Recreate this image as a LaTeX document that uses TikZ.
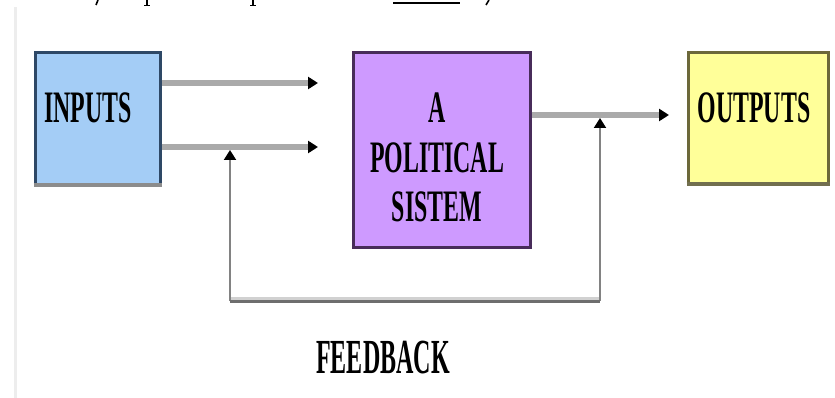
\documentclass[tikz,border=0pt]{standalone}
\usepackage{fontspec}
\usetikzlibrary{arrows.meta}
\newfontfamily\condA[FakeStretch=0.53]{Liberation Serif}
\newfontfamily\condB[FakeStretch=0.49]{Liberation Serif}
\definecolor{inpfill}{RGB}{164,205,246}
\definecolor{inpdraw}{RGB}{46,72,102}
\definecolor{polfill}{RGB}{206,154,255}
\definecolor{poldraw}{RGB}{72,44,90}
\definecolor{outfill}{RGB}{255,255,153}
\definecolor{outdraw}{RGB}{108,104,58}
\definecolor{flowgray}{RGB}{170,170,170}
\definecolor{fbgray}{RGB}{130,130,130}
\tikzset{
  boxnode/.style={rectangle, line width=3pt, inner sep=0pt},
  lbl/.style={inner sep=0pt, anchor=base, font=\condA\bfseries\fontsize{45}{50}\selectfont},
  tipA/.style={-{Triangle[length=10pt,width=12pt,color=black,fill=black]}},
  flow/.style={draw=flowgray, line width=6pt, tipA},
  fbv/.style={draw=fbgray, line width=2pt, tipA},
  fbh/.style={draw=fbgray!85!black, line width=3pt},
  frag/.style={draw=black, line width=1.6pt}
}
\begin{document}
\begin{tikzpicture}[x=1pt,y=-1pt]
\useasboundingbox (0,0) rectangle (835,398);
% page edge
\draw[draw=black!7, line width=3pt] (15,7) -- (15,398);
% fragments of the line above
\draw[frag] (98,0) -- (96,5);
\draw[frag] (147,0) -- (147,5); \draw[frag, line width=1pt] (144,5.5) -- (150,5.5);
\draw[frag] (253,0) -- (253,5); \draw[frag, line width=1pt] (250,5.5) -- (256,5.5);
\draw[frag, line width=2.5pt] (393,3) -- (460,3);
\draw[frag] (489,0) -- (486,5);
% boxes
\node[boxnode, fill=inpfill, draw=inpdraw, minimum width=125pt, minimum height=132pt] (inp) at (97.5,119) {};
\node[boxnode, fill=polfill, draw=poldraw, minimum width=177pt, minimum height=194pt] (pol) at (441.5,150) {};
\node[boxnode, fill=outfill, draw=outdraw, minimum width=140pt, minimum height=131pt] (out) at (758,118.5) {};
\draw[draw=black!45, line width=4pt] ([yshift=1.5pt]inp.south west) -- ([yshift=1.5pt]inp.south east);
\draw[draw=outdraw!70!gray, line width=4pt] ([yshift=1.5pt]out.south west) -- ([yshift=1.5pt]out.south east);
% texts
\node[lbl] (tin) at (88,123) {INPUTS};
\node[lbl] (tout) at (754,123) {OUTPUTS};
\node[lbl] (tp1) at (437,123) {A};
\node[lbl] (tp2) at (437,173) {POLITICAL};
\node[lbl] (tp3) at (437,222) {SISTEM};
\node[lbl, font=\condB\bfseries\fontsize{49}{52}\selectfont] (tfb) at (383,373) {FEEDBACK};
% arrow ends
\coordinate (a1) at (318,83);
\coordinate (a2) at (318,147);
\coordinate (a3) at (669,115);
\draw[flow] (inp.east |- a1) -- (a1);
\draw[flow] (inp.east |- a2) -- (a2);
\draw[flow] (pol.east |- a3) -- (a3);
% feedback loop
\coordinate (c1) at (230,301);
\coordinate (c2) at (600,301);
\coordinate (t1) at (230,150);
\coordinate (t2) at (600,118);
\draw[draw=black!18, line width=3pt] ([yshift=3pt]c1) -- ([yshift=3pt]c2);
\draw[fbv] (c1) -- (t1);
\draw[fbv] (c2) -- (t2);
\draw[fbh] (c1) -- (c2);
\end{tikzpicture}
\end{document}
